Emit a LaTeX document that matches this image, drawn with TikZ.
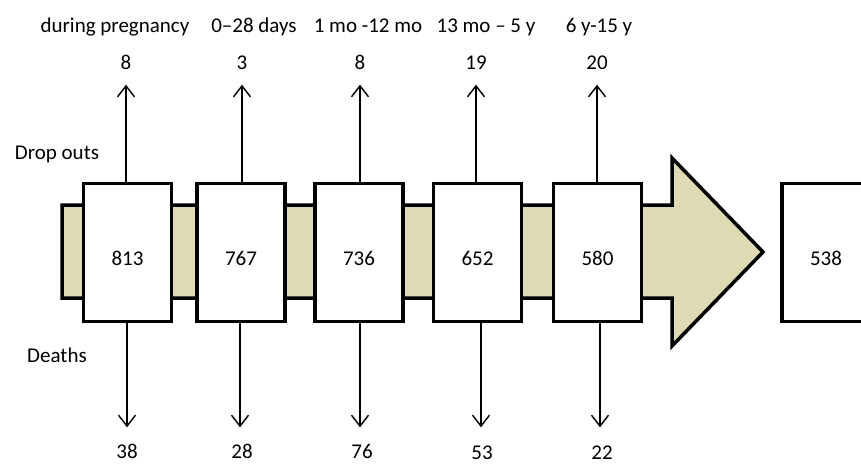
\documentclass[tikz,border=0pt]{standalone}
\usepackage{fontspec}
\setmainfont{Carlito}
\usetikzlibrary{arrows.meta}
\definecolor{bandtan}{RGB}{221,218,180}
\begin{document}
\begin{tikzpicture}[x=1pt,y=-1pt,
  font=\fontsize{21}{25}\selectfont,
  stagebox/.style={draw=black,line width=3.5pt,fill=white,minimum width=88pt,minimum height=138pt,inner sep=0pt,text height=25pt,text depth=0pt},
  lbl/.style={inner sep=0pt,text height=15pt,text depth=0pt},
  flow/.style={line width=1.4pt,-{Straight Barb[length=11pt,width=17pt,line width=1.4pt]}}]
\useasboundingbox (0,0) rectangle (861,465);
\clip (0,0) rectangle (861,465);
% band arrow
\draw[line width=3.5pt,fill=bandtan,line join=miter]
  (62,205) -- (672,205) -- (672,158) -- (763,252) -- (672,346) -- (672,298) -- (62,298) -- cycle;
% boxes
\node[stagebox] (b1) at (127.5,252.5) {813};
\node[stagebox] (b2) at (241,252.5) {767};
\node[stagebox] (b3) at (359,252.5) {736};
\node[stagebox] (b4) at (477.5,252.5) {652};
\node[stagebox] (b5) at (597.5,252.5) {580};
\node[stagebox] (b6) at (826,252.5) {538};
% top labels
\node[lbl] (p1) at (115,25) {during pregnancy};
\node[lbl] (p2) at (254,25) {0–28 days};
\node[lbl] (p3) at (368,25) {1 mo -12 mo};
\node[lbl] (p4) at (486,25) {13 mo – 5 y};
\node[lbl] (p5) at (599,25) {6 y-15 y};
% top numbers
\node[lbl] (t1) at (126,62) {8};
\node[lbl] (t2) at (242,62) {3};
\node[lbl] (t3) at (360,62) {8};
\node[lbl] (t4) at (476,62) {19};
\node[lbl] (t5) at (597,62) {20};
% bottom numbers
\node[lbl] (d1) at (127,451) {38};
\node[lbl] (d2) at (242,451) {28};
\node[lbl] (d3) at (362,451) {76};
\node[lbl] (d4) at (482,452) {53};
\node[lbl] (d5) at (602,452) {22};
% side labels
\node[lbl] (drop) at (57,152) {Drop outs};
\node[lbl] (death) at (57,355) {Deaths};
% up arrows
\foreach \i in {1,...,5}{
  \draw[flow,shorten >=15pt] (t\i |- b\i.north) -- (t\i.south);
}
% down arrows
\draw[flow,shorten >=16pt] (d1 |- b1.south) -- (d1.north);
\draw[flow,shorten >=16pt] ([xshift=-2pt]d2 |- b2.south) -- ([xshift=-2pt]d2.north);
\draw[flow,shorten >=16pt] ([xshift=-2pt]d3 |- b3.south) -- ([xshift=-2pt]d3.north);
\draw[flow,shorten >=17pt] ([xshift=-1pt]d4 |- b4.south) -- ([xshift=-1pt]d4.north);
\draw[flow,shorten >=17pt] ([xshift=-2pt]d5 |- b5.south) -- ([xshift=-2pt]d5.north);
\end{tikzpicture}
\end{document}
